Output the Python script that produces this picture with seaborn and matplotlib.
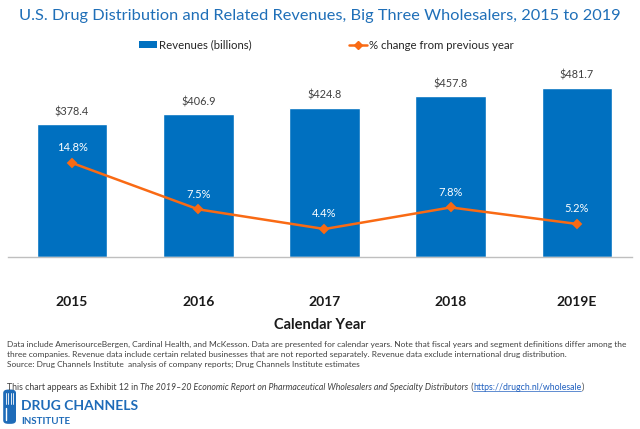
import matplotlib
matplotlib.use("Agg")
import matplotlib.pyplot as plt
import seaborn as sns
import pandas as pd
from matplotlib.patches import Patch, FancyBboxPatch
from matplotlib.lines import Line2D

# data
years = ['2015', '2016', '2017', '2018', '2019E']
revenues = [378.4, 406.9, 424.8, 457.8, 481.7]
pct_change = [14.8, 7.5, 4.4, 7.8, 5.2]

df = pd.DataFrame({'year': years, 'revenue': revenues, 'pct': pct_change})

BLUE = '#0070C0'
ORANGE = '#F96A14'
TITLE_BLUE = '#1F6FB8'
GRAY_TEXT = '#404040'

sns.set_style("white")
plt.rcParams['font.family'] = ['Lato', 'DejaVu Sans']

fig = plt.figure(figsize=(6.4, 4.29), dpi=100)
ax = fig.add_axes([0.0125, 0.401, 0.975, 0.459])

# ——— bars ———
sns.barplot(data=df, x='year', y='revenue', color=BLUE, width=0.56,
            saturation=1, ax=ax)
ax.set_ylim(0, 561)
ax.set_xlim(-0.507, 4.436)
for i, v in enumerate(revenues):
    ax.annotate(f"${v:.1f}", (i, v), xytext=(0, 5), textcoords='offset points',
                ha='center', va='bottom', fontsize=7.8, color=GRAY_TEXT)

# ——— % change line ———
ax2 = ax.twinx()
sns.pointplot(data=df, x='year', y='pct', color=ORANGE, markers='D',
              markersize=4.5, linewidth=1.8, ax=ax2)
ax2.set_ylim(0, 31)
ax2.set_xlim(-0.507, 4.436)
for i, v in enumerate(pct_change):
    ax2.annotate(f"{v}%", (i, v), xytext=(0, 7), textcoords='offset points',
                 ha='center', va='bottom', fontsize=8, color='white')

for a in (ax, ax2):
    a.set_ylabel('')
    a.set_yticks([])
    for s in ['top', 'right', 'left']:
        a.spines[s].set_visible(False)
ax2.spines['bottom'].set_visible(False)
ax.spines['bottom'].set_color('#BFBFBF')
ax.spines['bottom'].set_linewidth(1)
ax.set_xlabel('')
ax2.set_xlabel('')
ax.tick_params(axis='x', length=0, pad=28, labelsize=10)
for t in ax.get_xticklabels():
    t.set_fontweight('bold')
    t.set_color('#1A1A1A')

# ——— title, legend, axis label ———
fig.text(0.5, 0.962, "U.S. Drug Distribution and Related Revenues, Big Three Wholesalers, 2015 to 2019",
         ha='center', va='center', fontsize=11.8, color=TITLE_BLUE)

handles = [Patch(facecolor=BLUE, edgecolor='none', label='Revenues (billions)'),
           Line2D([0], [0], color=ORANGE, lw=1.8, marker='D', markersize=4.5,
                  label='% change from previous year')]
fig.legend(handles=handles, loc='center', bbox_to_anchor=(0.51, 0.895), ncol=2,
           frameon=False, fontsize=8.2, columnspacing=8.5, handlelength=1.6,
           handletextpad=0.2, handleheight=0.6)

fig.text(0.5, 1 - 325 / 429, "Calendar Year", ha='center', va='center',
         fontsize=10.5, fontweight='bold', color='#1A1A1A')

# ——— footnotes ———
notes = ["Data include AmerisourceBergen, Cardinal Health, and McKesson. Data are presented for calendar years. Note that fiscal years and segment definitions differ among the",
         "three companies. Revenue data include certain related businesses that are not reported separately. Revenue data exclude international drug distribution.",
         "Source: Drug Channels Institute  analysis of company reports; Drug Channels Institute estimates"]
for k, line in enumerate(notes):
    fig.text(0.011, 1 - (344 + 10 * k) / 429, line, ha='left', va='center',
             fontsize=6.0, color=GRAY_TEXT)

# mixed-style source line
parts = [("This chart appears as Exhibit 12 in ", 'normal', GRAY_TEXT),
         ("The 2019\u201320 Economic Report on Pharmaceutical Wholesalers and Specialty Distributors", 'italic', GRAY_TEXT),
         (" (", 'normal', GRAY_TEXT),
         ("https://drugch.nl/wholesale", 'normal', '#1F5FBF'),
         (")", 'normal', GRAY_TEXT)]
fig.canvas.draw()
renderer = fig.canvas.get_renderer()
x_px = 0.011 * 640
y_fig = 1 - 387 / 429
for txt, style, col in parts:
    t = fig.text(x_px / 640, y_fig, txt, ha='left', va='center', fontsize=6.3,
                 style=style, color=col)
    bb = t.get_window_extent(renderer)
    if txt.startswith('http'):
        fig.add_artist(Line2D([bb.x0 / 640, bb.x1 / 640],
                              [bb.y0 / 429 + 0.001, bb.y0 / 429 + 0.001],
                              color=col, lw=0.5, transform=fig.transFigure))
    x_px = bb.x1

# ——— logo ———
logo_blue = '#1E6BB8'
fig.add_artist(FancyBboxPatch((0.005, 0.012), 0.02, 0.08,
                              boxstyle="round,pad=0,rounding_size=0.008",
                              facecolor=logo_blue, edgecolor='none',
                              transform=fig.transFigure))
for k in range(4):
    xk = 0.009 + k * 0.004
    fig.add_artist(Line2D([xk, xk], [0.058, 0.084], color='white', lw=0.6,
                          transform=fig.transFigure))
fig.add_artist(Line2D([0.0095, 0.0095], [0.02, 0.05], color='white', lw=1.0,
                      transform=fig.transFigure))
fig.text(0.033, 1 - 406 / 429, "DRUG CHANNELS", ha='left', va='center',
         fontsize=10, fontweight='bold', color=logo_blue)
fig.text(0.033, 1 - 421 / 429, "INSTITUTE", ha='left', va='center',
         fontsize=7, fontweight='bold', color=logo_blue)

fig.savefig("out.png", dpi=100)
